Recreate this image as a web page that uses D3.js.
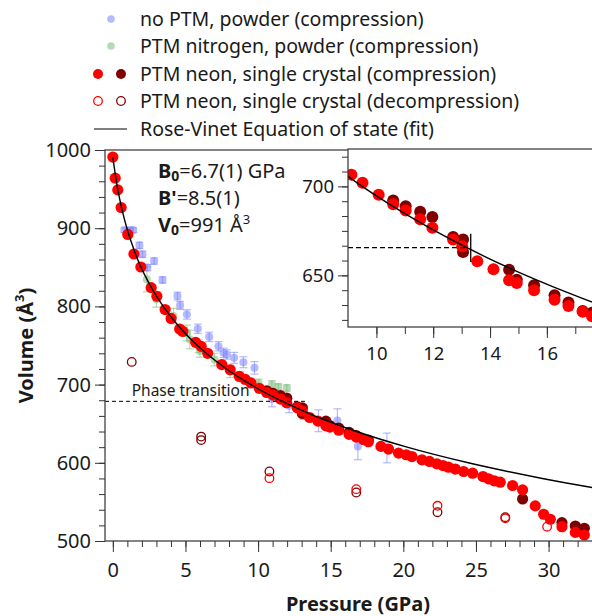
<!DOCTYPE html>
<html>
<head>
<meta charset="utf-8">
<script src="https://cdn.jsdelivr.net/npm/d3@7/dist/d3.min.js"></script>
<style>
  body { margin: 0; background: #fff; }
  text { font-family: "Noto Sans", sans-serif; fill: #1a1a1a; }
</style>
</head>
<body>
<svg id="chart" width="592" height="616"></svg>
<script>
// ---- data ----
// single crystal, neon PTM, compression (bright red)
var redP = [0, 0.16, 0.34, 0.57, 1.03, 1.45, 1.93, 2.64, 3.03, 3.6, 4.01, 4.6, 4.82, 5.7, 6.08, 6.53, 7.5, 8.08, 8.7,
  9.12, 9.51, 10.08, 10.59, 11.03, 11.54, 11.97, 12.7, 13.02, 13.55, 14.12, 14.67, 14.94, 15.55, 16.27, 16.76, 17.26, 17.59,
  18.46, 18.98, 19.67, 20.2, 20.59, 21.28, 21.8, 22.31, 22.73, 23.11, 23.58, 24.15, 24.77, 25.48, 25.87, 26.26, 26.67,
  27.52, 28.21, 29.08, 29.66, 30.12, 30.92, 31.84, 32.46];
var redV = [991, 964, 949, 926.5, 892, 867, 850.4, 824, 813, 796, 784.6, 771, 768, 754, 749, 740, 725.6, 719, 710.6,
  706.6, 702.1, 695.3, 689.9, 686.5, 681.5, 676.8, 670.2, 666.3, 657.9, 653.4, 647.2, 645.7, 641.7, 636.3, 632.8, 629.6, 627,
  621, 617.6, 612.4, 610.3, 608, 603.8, 601.7, 598.7, 596.5, 594.4, 592, 588.9, 586.7, 582.4, 579.5, 577, 575.2,
  571, 565.4, 544.9, 534.2, 527.8, 518.3, 511, 507.7];

// second crystal, compression (dark red)
var darkP = [10.59, 11.03, 11.54, 11.97, 12.7, 13.05, 13.05, 14.67, 14.94, 15.55, 16.27, 16.76, 17.26, 17.59, 28.21, 30.92, 31.84, 32.46];
var darkV = [692.1, 688.8, 685.8, 682.8, 671.5, 670.2, 663.1, 653.2, 647.6, 644.4, 638.8, 634.7, 630, 629, 553.8, 523.5, 519.2, 516.3];

// decompression (open circles)
var redOpenP = [10.78, 16.76, 22.35, 27.02, 29.9];
var redOpenV = [580.4, 566.3, 545, 529, 518.3];
var darkOpenP = [1.3, 6.08, 6.08, 10.78, 16.76, 22.35, 27.02];
var darkOpenV = [729, 633.5, 629, 588.9, 562, 536.8, 530.5];

// no PTM, powder (blue) with volume error
var blueP = [0.8, 1.15, 1.4, 1.83, 2.04, 2.38, 2.84, 3.42, 4.45, 4.63, 5.1, 5.85, 6.63, 7.27, 7.62, 7.85, 8.35, 8.99, 9.75,
  10.95, 12.14, 13.13, 14.16, 15.46, 16.87, 18.87];
var blueV = [897.5, 897.5, 897.5, 878, 866.7, 849.6, 858, 833.8, 813.2, 801.3, 789.7, 771.4, 761, 749, 740.6, 738.5, 734.2, 728.6, 721.4,
  681.7, 673, 664.5, 653.8, 654, 621, 619];
var blueErr = [3, 3, 3, 4, 4, 4, 4, 4, 5, 5, 6, 6, 6, 6, 6, 6, 7, 7, 8, 10, 9, 9, 14, 15, 17, 19];

// nitrogen PTM, powder (green) with volume error
var greenP = [2.34, 3.0, 4.17, 5.1, 5.3, 5.9, 6.0, 7.0, 8.08, 8.77, 10.03, 10.95, 11.4, 11.98];
var greenV = [834.6, 809, 787.6, 766, 757.7, 749, 743, 732, 717, 710.6, 702, 700, 697, 695.7];
var greenErr = [16, 10, 10, 10, 12, 8, 8, 8, 8, 6, 5, 5, 4, 4];

// Rose-Vinet fit curve
var fitP = [0, 0.08, 0.24, 0.44, 0.68, 0.97, 1.31, 1.71, 2.2, 2.78, 3.47, 4.29, 5.27, 6.43, 7.83, 9.5, 11.5, 13.89, 16.78, 20.26, 24.47, 29.57, 32.5, 34.1];
var fitV = [991, 980, 960, 940, 920, 900, 880, 860, 840, 820, 800, 780, 760, 740, 720, 700, 680, 660, 640, 620, 600, 580, 570, 565];

var mainXTicks = [0, 5, 10, 15, 20, 25, 30];
var mainYTicks = [500, 600, 700, 800, 900, 1000];
var insetXTicks = [10, 12, 14, 16];
var insetYTicks = [650, 700];

var legendLabels = [
  'no PTM, powder (compression)',
  'PTM nitrogen, powder (compression)',
  'PTM neon, single crystal (compression)',
  'PTM neon, single crystal (decompression)',
  'Rose-Vinet Equation of state (fit)'
];

// ---- colours ----
var cRed = '#ff0000', cDark = '#800000';
var cBlue = 'rgba(120,130,255,0.55)', cGreen = 'rgba(110,180,110,0.5)';

var svg = d3.select('#chart');

// ---- main plot ----
var margin = {left: 105, top: 150, bottom: 541, right: 600};
var x = d3.scaleLinear().domain([-0.54, 33.54]).range([margin.left, margin.right]);
var y = d3.scaleLinear().domain([500, 1000]).range([margin.bottom, margin.top]);

function zip(a, b, c) {
  return a.map(function(v, i) { return c ? [v, b[i], c[i]] : [v, b[i]]; });
}

svg.append('clipPath').attr('id', 'clipMain')
  .append('rect').attr('x', margin.left).attr('y', margin.top - 10)
  .attr('width', margin.right - margin.left).attr('height', margin.bottom - margin.top + 10);

function drawData(g, xs, ys, r, withPowder) {
  // error bar helper
  function errBars(data, col) {
    var eb = g.append('g').attr('stroke', col).attr('stroke-width', 1.2);
    data.forEach(function(d) {
      var cx = xs(d[0]);
      eb.append('line').attr('x1', cx).attr('x2', cx).attr('y1', ys(d[1] - d[2])).attr('y2', ys(d[1] + d[2]));
      eb.append('line').attr('x1', cx - 4).attr('x2', cx + 4).attr('y1', ys(d[1] - d[2])).attr('y2', ys(d[1] - d[2]));
      eb.append('line').attr('x1', cx - 4).attr('x2', cx + 4).attr('y1', ys(d[1] + d[2])).attr('y2', ys(d[1] + d[2]));
    });
  }
  if (withPowder) {
    var green = zip(greenP, greenV, greenErr);
    var blue = zip(blueP, blueV, blueErr);
    errBars(green, cGreen);
    g.selectAll(null).data(green).enter().append('circle')
      .attr('cx', function(d) { return xs(d[0]); }).attr('cy', function(d) { return ys(d[1]); })
      .attr('r', r * 0.72).attr('fill', cGreen);
    errBars(blue, cBlue);
    g.selectAll(null).data(blue).enter().append('circle')
      .attr('cx', function(d) { return xs(d[0]); }).attr('cy', function(d) { return ys(d[1]); })
      .attr('r', r * 0.72).attr('fill', cBlue);
  }

  g.selectAll(null).data(zip(darkOpenP, darkOpenV)).enter().append('circle')
    .attr('cx', function(d) { return xs(d[0]); }).attr('cy', function(d) { return ys(d[1]); })
    .attr('r', 4.3).attr('fill', 'none').attr('stroke', cDark).attr('stroke-width', 1.3);
  g.selectAll(null).data(zip(redOpenP, redOpenV)).enter().append('circle')
    .attr('cx', function(d) { return xs(d[0]); }).attr('cy', function(d) { return ys(d[1]); })
    .attr('r', 4.3).attr('fill', 'none').attr('stroke', cRed).attr('stroke-width', 1.3);

  g.selectAll(null).data(zip(darkP, darkV)).enter().append('circle')
    .attr('cx', function(d) { return xs(d[0]); }).attr('cy', function(d) { return ys(d[1]); })
    .attr('r', r).attr('fill', cDark);
  g.selectAll(null).data(zip(redP, redV)).enter().append('circle')
    .attr('cx', function(d) { return xs(d[0]); }).attr('cy', function(d) { return ys(d[1]); })
    .attr('r', r).attr('fill', cRed);

  var line = d3.line().x(function(d) { return xs(d[0]); }).y(function(d) { return ys(d[1]); })
    .curve(d3.curveMonotoneX);
  g.append('path').attr('d', line(zip(fitP, fitV)))
    .attr('fill', 'none').attr('stroke', '#000').attr('stroke-width', 1.4);
}

var plot = svg.append('g').attr('clip-path', 'url(#clipMain)');
drawData(plot, x, y, 5.6, true);

// phase transition marker (main)
svg.append('line')
  .attr('x1', margin.left).attr('x2', x(13.45))
  .attr('y1', y(678.6)).attr('y2', y(678.6))
  .attr('stroke', '#000').attr('stroke-width', 1).attr('stroke-dasharray', '4,3');
svg.append('text').attr('x', x(1.3)).attr('y', y(678.6) - 5)
  .style('font-size', '15.5px').text('Phase transition');

// axes (main)
function styleAxis(size) {
  return function(sel) {
    sel.selectAll('.domain').remove();
    sel.selectAll('line').attr('stroke', '#333');
    sel.selectAll('text').style('font-size', size).attr('fill', '#1a1a1a');
  };
}
svg.append('g').attr('transform', 'translate(' + margin.left + ',0)')
  .call(d3.axisLeft(y).tickValues(d3.range(500, 1001, 20)).tickSize(6).tickFormat(''))
  .call(styleAxis('20px'));
svg.append('g').attr('transform', 'translate(' + margin.left + ',0)')
  .call(d3.axisLeft(y).tickValues(mainYTicks).tickSize(10).tickPadding(4).tickFormat(d3.format('d')))
  .call(styleAxis('20px'));
svg.append('g').attr('transform', 'translate(0,' + margin.bottom + ')')
  .call(d3.axisBottom(x).tickValues(d3.range(0, 34, 1)).tickSize(6).tickFormat(''))
  .call(styleAxis('20px'));
svg.append('g').attr('transform', 'translate(0,' + margin.bottom + ')')
  .call(d3.axisBottom(x).tickValues(mainXTicks).tickSize(11).tickPadding(11).tickFormat(d3.format('d')))
  .call(styleAxis('20px'));

svg.append('rect').attr('x', margin.left).attr('y', margin.top)
  .attr('width', margin.right - margin.left).attr('height', margin.bottom - margin.top)
  .attr('fill', 'none').attr('stroke', '#333').attr('stroke-width', 1.2);

// axis titles
svg.append('text').attr('x', 358).attr('y', 611).attr('text-anchor', 'middle')
  .style('font-size', '20px').style('font-weight', 'bold').text('Pressure (GPa)');
var yt = svg.append('text').attr('transform', 'translate(33,' + ((margin.top + margin.bottom) / 2) + ') rotate(-90)')
  .attr('text-anchor', 'middle').style('font-size', '20px').style('font-weight', 'bold');
yt.append('tspan').text('Volume (Å');
yt.append('tspan').attr('baseline-shift', 'super').style('font-size', '13px').text('3');
yt.append('tspan').text(')');

// fit parameters
var ann = svg.append('g').style('font-size', '20px');
var a1 = ann.append('text').attr('x', 158).attr('y', 178);
a1.append('tspan').style('font-weight', 'bold').text('B');
a1.append('tspan').style('font-weight', 'bold').style('font-size', '14px').attr('dy', 3).text('0');
a1.append('tspan').attr('dy', -3).text('=6.7(1) GPa');
var a2 = ann.append('text').attr('x', 158).attr('y', 205);
a2.append('tspan').style('font-weight', 'bold').text("B'");
a2.append('tspan').text('=8.5(1)');
var a3 = ann.append('text').attr('x', 158).attr('y', 232);
a3.append('tspan').style('font-weight', 'bold').text('V');
a3.append('tspan').style('font-weight', 'bold').style('font-size', '14px').attr('dy', 3).text('0');
a3.append('tspan').attr('dy', -3).text('=991 Å');
a3.append('tspan').style('font-size', '13px').attr('dy', -8).text('3');

// ---- inset ----
var inset = {left: 348, top: 149, bottom: 327, right: 600};
var xi = d3.scaleLinear().domain([9, 17.87]).range([inset.left, inset.right]);
var yi = d3.scaleLinear().domain([621, 721]).range([inset.bottom, inset.top]);

svg.append('rect').attr('x', inset.left).attr('y', inset.top)
  .attr('width', inset.right - inset.left).attr('height', inset.bottom - inset.top)
  .attr('fill', '#fff');
svg.append('clipPath').attr('id', 'clipInset')
  .append('rect').attr('x', inset.left).attr('y', inset.top)
  .attr('width', inset.right - inset.left).attr('height', inset.bottom - inset.top);
var ig = svg.append('g').attr('clip-path', 'url(#clipInset)');
drawData(ig, xi, yi, 6, false);

ig.append('line')
  .attr('x1', inset.left).attr('x2', xi(13.18))
  .attr('y1', yi(665.6)).attr('y2', yi(665.6))
  .attr('stroke', '#000').attr('stroke-width', 1.2).attr('stroke-dasharray', '5,3');
ig.append('line')
  .attr('x1', xi(13.32)).attr('x2', xi(13.32))
  .attr('y1', yi(673.4)).attr('y2', yi(657.5))
  .attr('stroke', '#000').attr('stroke-width', 1.3);

// inset minor ticks: six subdivisions between 650 and 700, as drawn
var insetMinor = d3.range(-3, 9).map(function(k) { return 650 + k * 50 / 6; });
svg.append('g').attr('transform', 'translate(' + inset.left + ',0)')
  .call(d3.axisLeft(yi).tickValues(insetMinor).tickSize(6).tickFormat(''))
  .call(styleAxis('18.5px'));
svg.append('g').attr('transform', 'translate(' + inset.left + ',0)')
  .call(d3.axisLeft(yi).tickValues(insetYTicks).tickSize(10).tickPadding(4).tickFormat(d3.format('d')))
  .call(styleAxis('18.5px'));
svg.append('g').attr('transform', 'translate(0,' + inset.bottom + ')')
  .call(d3.axisBottom(xi).tickValues(d3.range(10, 18, 1)).tickSize(7).tickFormat(''))
  .call(styleAxis('18.5px'));
svg.append('g').attr('transform', 'translate(0,' + inset.bottom + ')')
  .call(d3.axisBottom(xi).tickValues(insetXTicks).tickSize(11).tickPadding(9).tickFormat(d3.format('d')))
  .call(styleAxis('18.5px'));
svg.append('rect').attr('x', inset.left).attr('y', inset.top)
  .attr('width', inset.right - inset.left).attr('height', inset.bottom - inset.top)
  .attr('fill', 'none').attr('stroke', '#333').attr('stroke-width', 1.2);

// ---- legend ----
var rows = [19, 46, 74, 101, 129];
var leg = svg.append('g');
legendLabels.forEach(function(t, i) {
  leg.append('text').attr('x', 140).attr('y', rows[i]).attr('dy', '0.35em')
    .style('font-size', '19.5px').text(t);
});
leg.append('circle').attr('cx', 111).attr('cy', rows[0]).attr('r', 3.8).attr('fill', cBlue);
leg.append('circle').attr('cx', 111).attr('cy', rows[1]).attr('r', 3.8).attr('fill', cGreen);
leg.append('circle').attr('cx', 98).attr('cy', rows[2]).attr('r', 5).attr('fill', cRed);
leg.append('circle').attr('cx', 121).attr('cy', rows[2]).attr('r', 5).attr('fill', cDark);
leg.append('circle').attr('cx', 98).attr('cy', rows[3]).attr('r', 4.3).attr('fill', 'none').attr('stroke', cRed).attr('stroke-width', 1.3);
leg.append('circle').attr('cx', 121).attr('cy', rows[3]).attr('r', 4.3).attr('fill', 'none').attr('stroke', cDark).attr('stroke-width', 1.3);
leg.append('line').attr('x1', 94).attr('x2', 127).attr('y1', rows[4]).attr('y2', rows[4])
  .attr('stroke', '#000').attr('stroke-width', 1.2);
</script>
</body>
</html>
